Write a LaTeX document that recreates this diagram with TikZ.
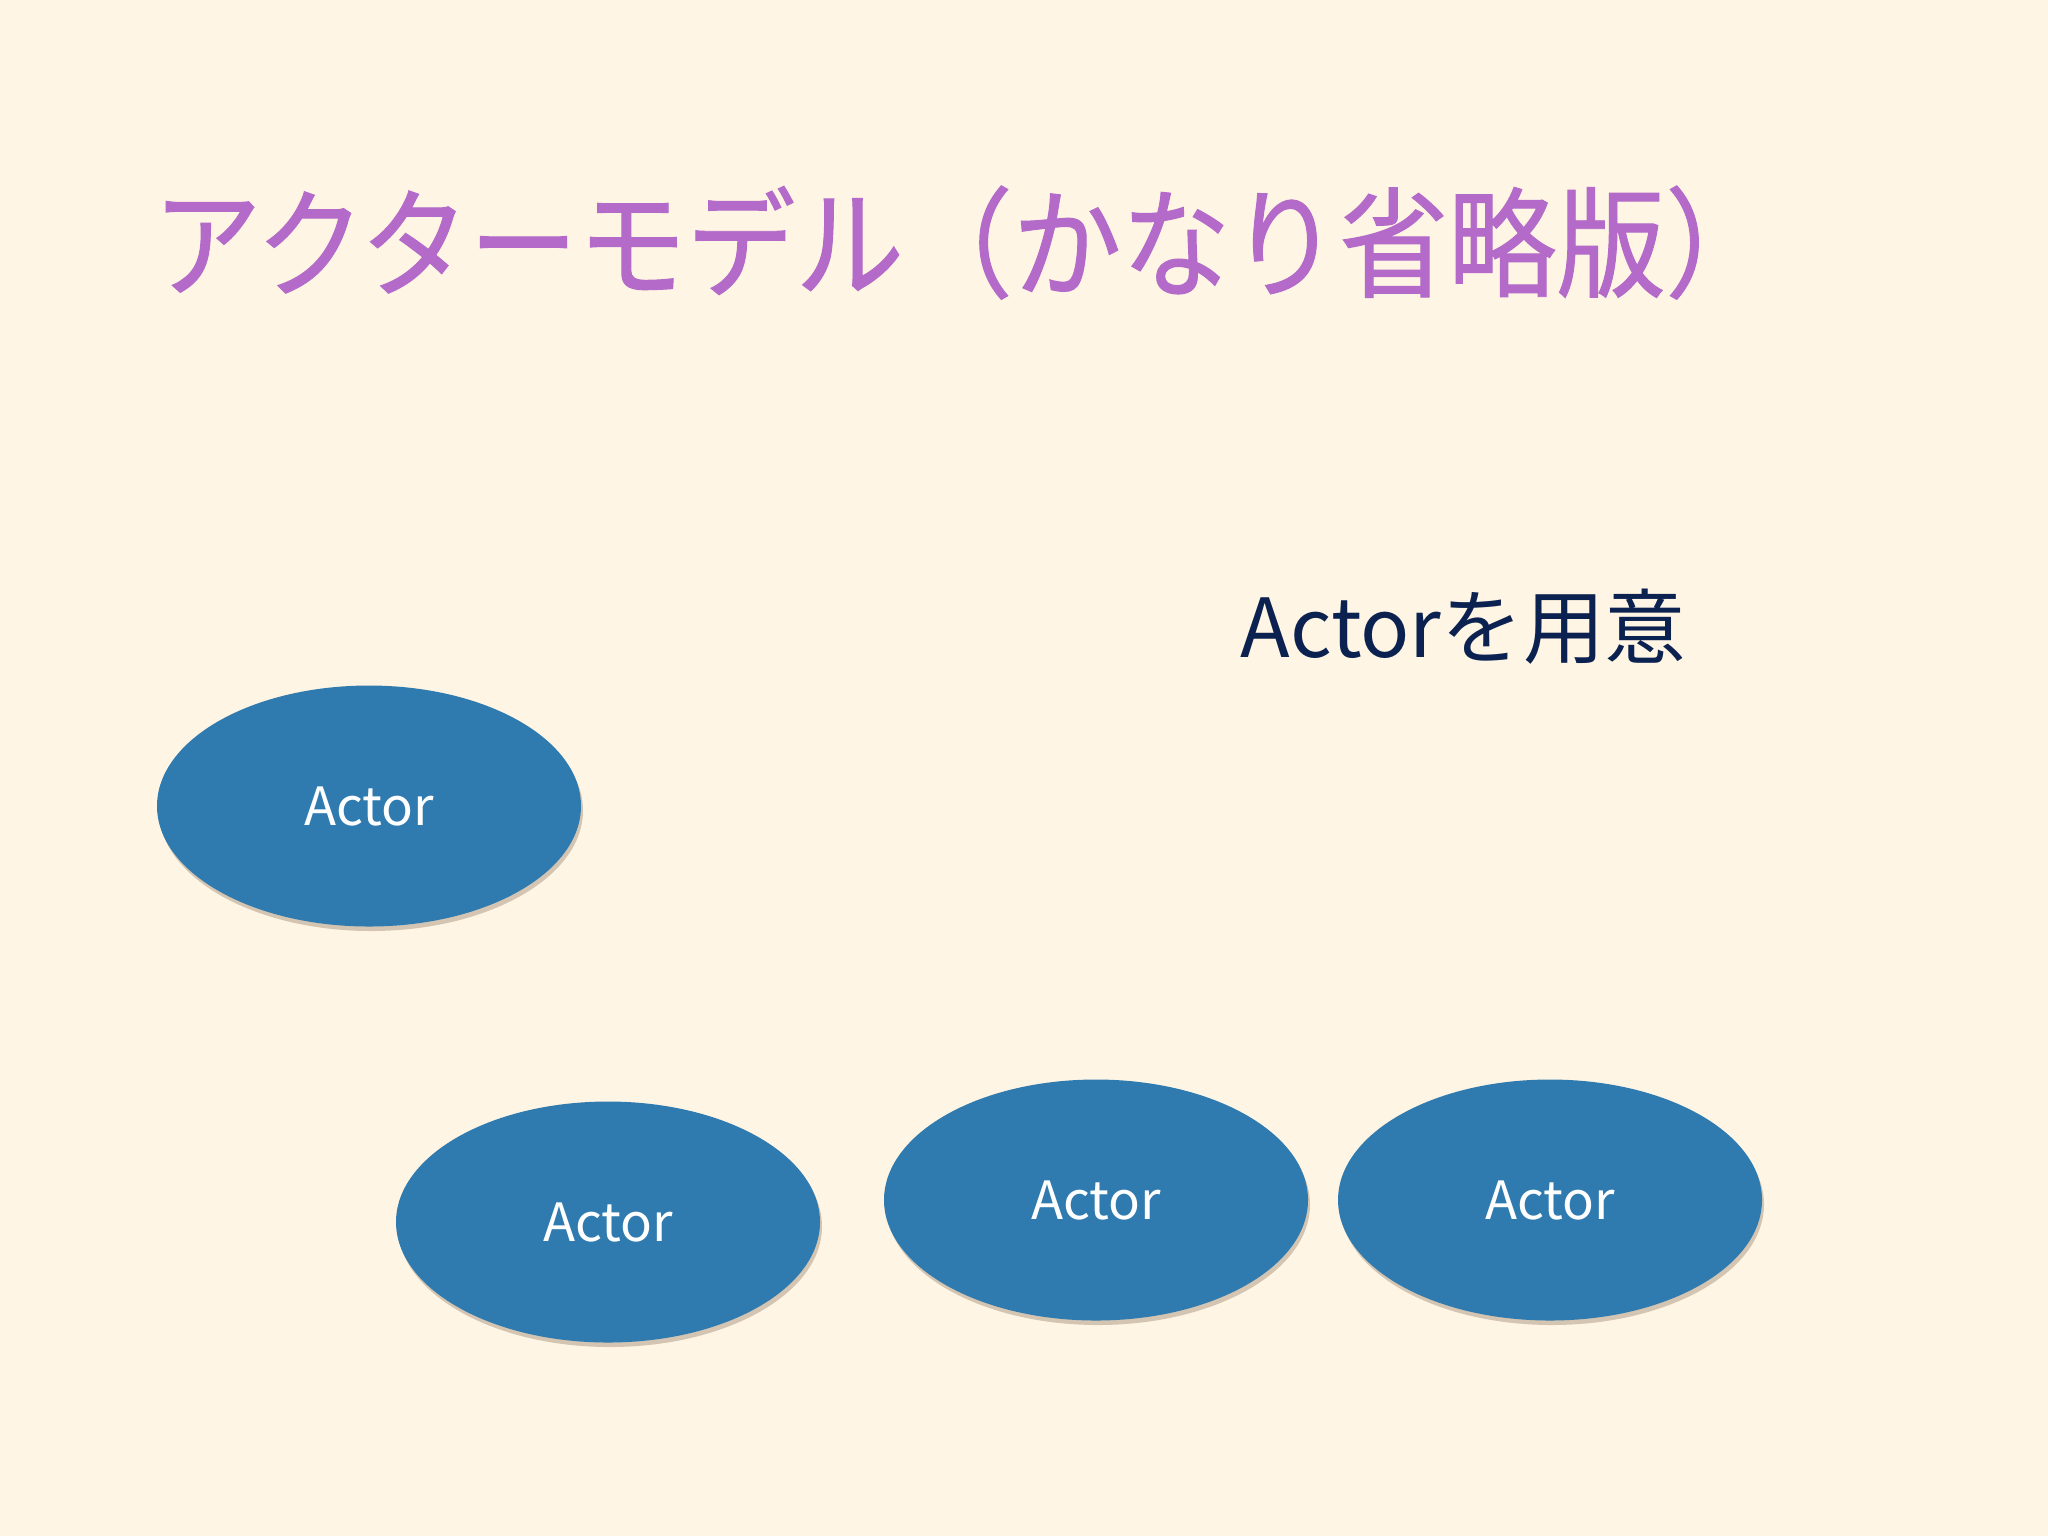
\documentclass[tikz,border=0pt]{standalone}
\usepackage{fontspec}
\setmainfont{Noto Sans CJK JP}
\newfontfamily\titlefont[FakeStretch=0.91,FakeBold=0.8]{Noto Sans CJK JP}
\usetikzlibrary{shapes.geometric,shadows}
\definecolor{bgcream}{HTML}{FEF5E4}
\definecolor{titlepurple}{HTML}{B46AC9}
\definecolor{captionnavy}{HTML}{0B2150}
\definecolor{actorblue}{HTML}{2F7BB0}
\tikzset{
  actor/.style={ellipse, fill=actorblue, text=white, inner sep=0pt,
    minimum width=42.4mm, minimum height=24.1mm,
    font=\fontsize{15}{18}\selectfont,
    drop shadow={shadow xshift=0.2mm, shadow yshift=-0.45mm, opacity=0.25, fill=black!55!brown}},
  slidetitle/.style={anchor=base west, inner sep=0pt, text=titlepurple,
    font=\titlefont\fontsize{34}{40}\selectfont},
  caption/.style={anchor=base west, inner sep=0pt, text=captionnavy,
    font=\fontsize{23.2}{27}\selectfont}
}
\begin{document}
\begin{tikzpicture}[x=0.1mm,y=-0.1mm]
  \fill[bgcream] (0,0) rectangle (2048,1536);
  \useasboundingbox (0,0) rectangle (2048,1536);
  \node[slidetitle] (title) at (152,288) {アクターモデル（かなり省略版）};
  \node[caption] (caption) at (1240,657) {Actorを用意};
  \draw
    (369,806) node[actor] (actor1){Actor}
    (608,1222) node[actor] (actor2){Actor}
    (1096,1200) node[actor] (actor3){Actor}
    (1550,1200) node[actor] (actor4){Actor};
\end{tikzpicture}
\end{document}
